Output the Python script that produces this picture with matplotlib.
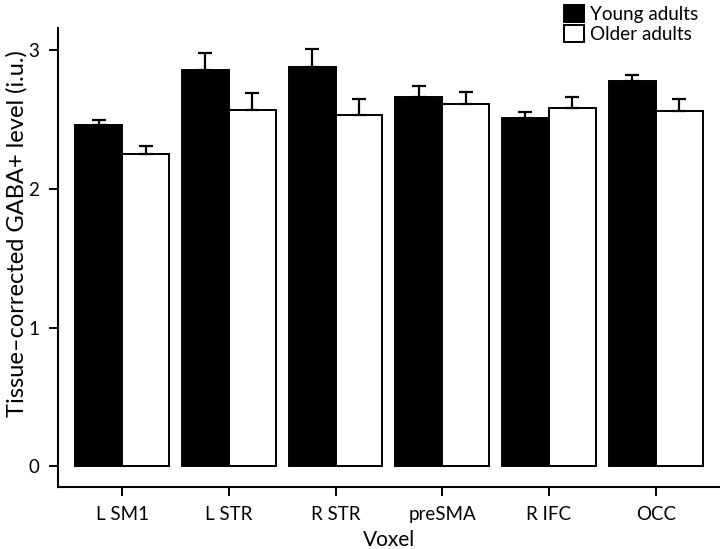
import matplotlib
matplotlib.use("Agg")
import matplotlib.pyplot as plt
import numpy as np

plt.rcParams['font.family'] = ['Lato', 'DejaVu Sans']

voxels = ['L SM1', 'L STR', 'R STR', 'preSMA', 'R IFC', 'OCC']
young = [2.46, 2.86, 2.88, 2.66, 2.51, 2.78]
young_err = [0.04, 0.12, 0.13, 0.08, 0.045, 0.04]
older = [2.25, 2.57, 2.53, 2.61, 2.58, 2.56]
older_err = [0.06, 0.12, 0.12, 0.085, 0.08, 0.09]

x = np.arange(len(voxels))
w = 0.44

fig = plt.figure(figsize=(7.2, 5.49), dpi=100)
ax = fig.add_axes([0.0806, 0.113, 0.919, 0.836])

err_kw = dict(elinewidth=1.6, capsize=4.7, capthick=1.6, ecolor='black')
ax.bar(x - w/2, young, w, color='black', edgecolor='black', linewidth=1.4,
       yerr=[np.zeros(len(x)), young_err], error_kw=err_kw, label='Young adults', zorder=2)
ax.bar(x + w/2, older, w, color='white', edgecolor='black', linewidth=1.4,
       yerr=[np.zeros(len(x)), older_err], error_kw=err_kw, label='Older adults', zorder=2)

ax.set_xlim(-0.6, 5.6)
ax.set_ylim(-0.15, 3.16)
ax.set_yticks([0, 1, 2, 3])
ax.set_xticks(x)
ax.set_xticklabels(voxels)
ax.tick_params(labelsize=13.5, width=1.4, length=6.5, pad=7)
for s in ['top', 'right']:
    ax.spines[s].set_visible(False)
for s in ['left', 'bottom']:
    ax.spines[s].set_linewidth(1.5)

ax.set_xlabel('Voxel', fontsize=15, labelpad=5)
ax.set_ylabel('Tissue\u2013corrected GABA+ level (i.u.)', fontsize=17)
ax.yaxis.set_label_coords(-0.046, 0.553)

fig.legend(loc='upper right', bbox_to_anchor=(0.985, 1.012), frameon=False, fontsize=13.6,
           handlelength=1.05, handleheight=1.05, handletextpad=0.3, labelspacing=0.1,
           borderaxespad=0.2)

fig.savefig('out.png', dpi=100)
